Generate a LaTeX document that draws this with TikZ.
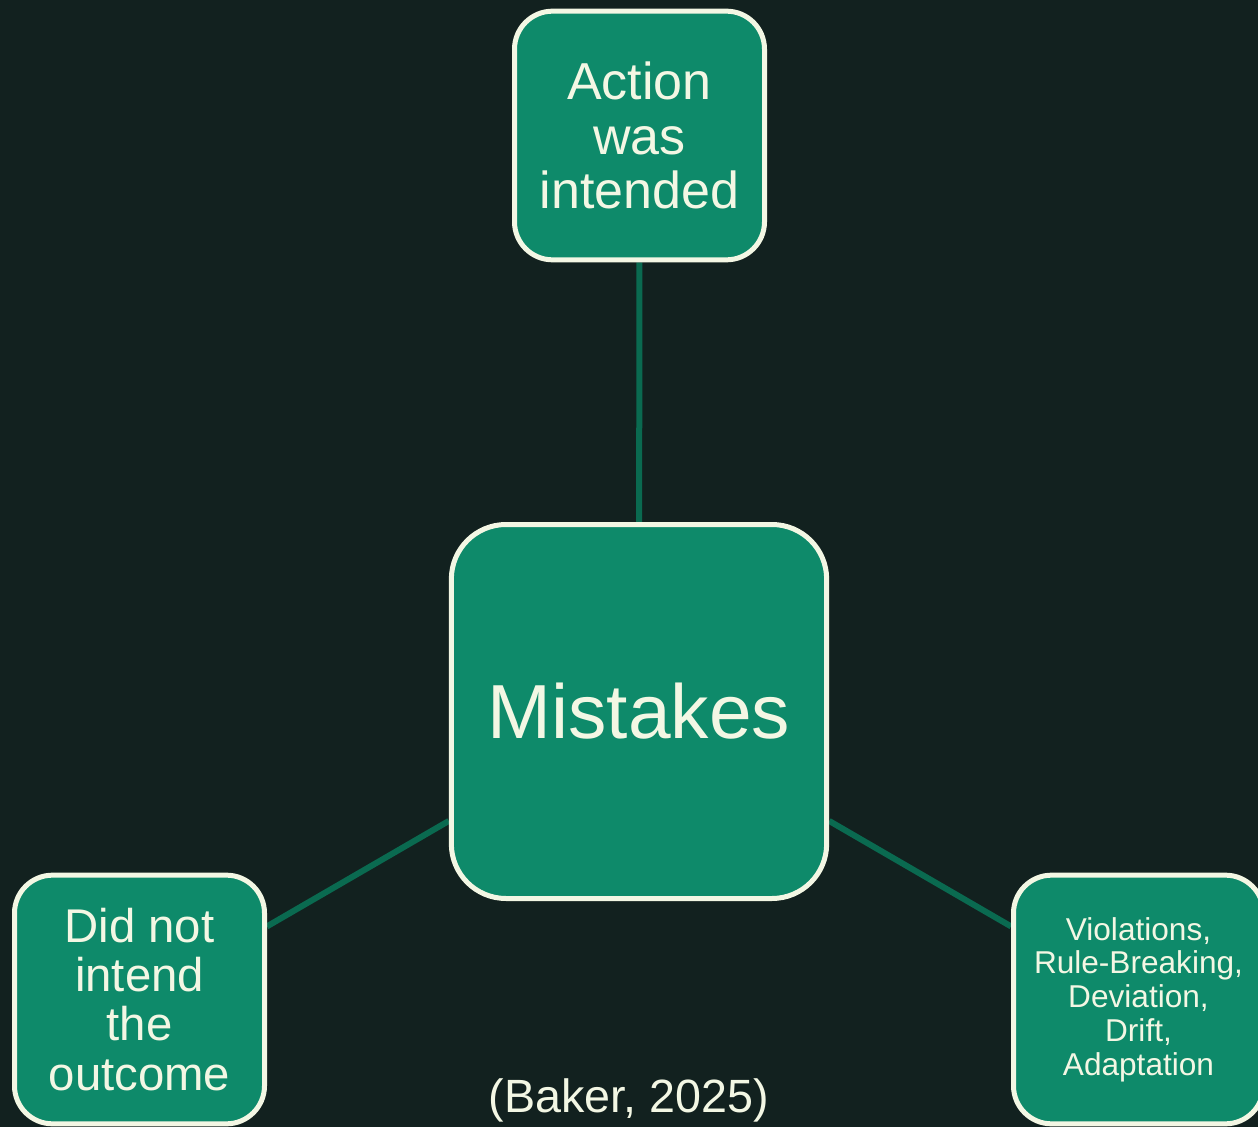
\documentclass[tikz,border=0pt]{standalone}
\usepackage{fontspec}
\setmainfont{Liberation Sans}
\pgfdeclarelayer{bg}
\pgfdeclarelayer{edges}
\pgfsetlayers{bg,edges,main}
\definecolor{pagebg}{HTML}{12211F}
\definecolor{boxfill}{HTML}{0E8A6A}
\definecolor{cream}{HTML}{F3F7E4}
\definecolor{link}{HTML}{0A6A50}
\begin{document}
\begin{tikzpicture}[x=0.75pt,y=-0.75pt,
  box/.style={draw=cream, fill=boxfill, line width=3.75pt, text=cream,
    align=center, inner sep=0pt},
  leaf/.style={box, minimum width=187.5pt, minimum height=186.5pt, rounded corners=28.5pt},
  connector/.style={draw=link, line width=4.5pt}]
\begin{pgfonlayer}{bg}
  \fill[pagebg] (0,0) rectangle (1258,1127);
\end{pgfonlayer}
\useasboundingbox (0,0) rectangle (1258,1127);

\node[box, minimum width=281.5pt, minimum height=280.5pt, rounded corners=41pt,
  font=\fontsize{57.5pt}{62pt}\selectfont] (core) at (639,711.5) {Mistakes};

\node[leaf, font=\fontsize{39pt}{40.9pt}\selectfont] (intended) at (639.5,135.5)
  {Action\\was\\intended};

\node[leaf, font=\fontsize{35.5pt}{36.8pt}\selectfont] (unintended) at (139.5,999.5)
  {Did not\\intend\\the\\outcome};

\node[leaf, font=\fontsize{23.7pt}{25.3pt}\selectfont] (violations) at (1138.5,999.5)
  {Violations,\\Rule-Breaking,\\Deviation,\\Drift,\\Adaptation};

\node[text=cream, anchor=base, inner sep=0pt, font=\fontsize{35pt}{38pt}\selectfont]
  (source) at (629,1112) {(Baker, 2025)};

\begin{pgfonlayer}{edges}
  \draw[connector] (core) -- (intended);
  \draw[connector] (core) -- (unintended);
  \draw[connector] (core) -- (violations);
\end{pgfonlayer}
\end{tikzpicture}
\end{document}
